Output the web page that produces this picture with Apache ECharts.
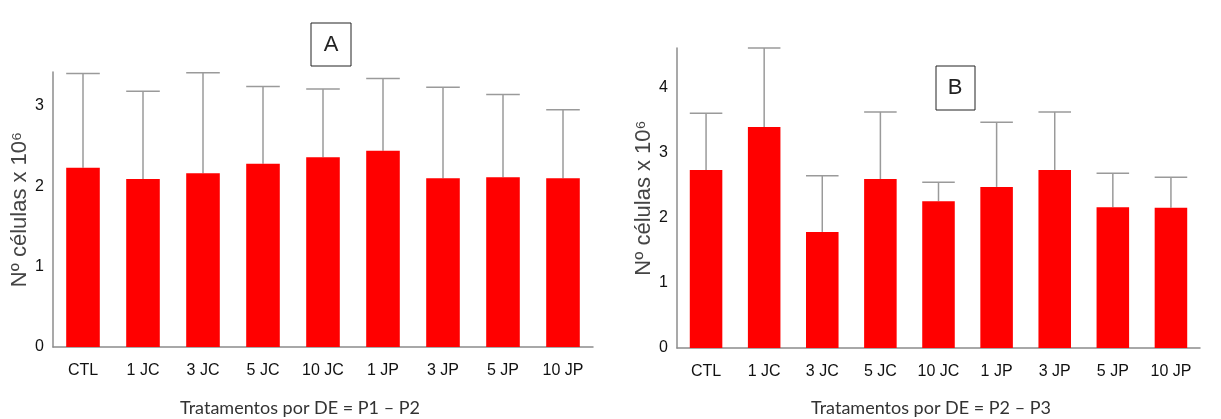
<!DOCTYPE html>
<html>
<head>
<meta charset="utf-8">
<script src="https://cdn.jsdelivr.net/npm/echarts@6/dist/echarts.min.js"></script>
<style>
  html, body { margin: 0; padding: 0; background: #fff; }
  #chart { width: 1221px; height: 419px; }
</style>
</head>
<body>
<div id="chart"></div>
<script>
// categorias (iguais nos dois painéis)
const categorias = ['CTL', '1 JC', '3 JC', '5 JC', '10 JC', '1 JP', '3 JP', '5 JP', '10 JP'];

// painel A: DE = P1 - P2
const mediaA = [2.23, 2.09, 2.16, 2.28, 2.36, 2.44, 2.10, 2.11, 2.10];
const topoA = [3.40, 3.18, 3.41, 3.24, 3.21, 3.34, 3.23, 3.14, 2.95];

// painel B: DE = P2 - P3
const mediaB = [2.73, 3.39, 1.78, 2.59, 2.25, 2.47, 2.73, 2.16, 2.15];
const topoB = [3.60, 4.60, 2.64, 3.62, 2.54, 3.46, 3.62, 2.68, 2.62];

const vermelho = '#ff0000';
const cinza = '#9a9a9a';
const largura = 0.56;

// barra de erro só para cima
function erroItem() {
  return function (params, api) {
    const i = api.value(0);
    const base = api.coord([i, api.value(1)]);
    const alto = api.coord([i, api.value(2)]);
    const meia = api.size([1, 0])[0] * largura / 2;
    const estilo = { stroke: cinza, lineWidth: 1.5 };
    return {
      type: 'group',
      children: [
        { type: 'line', shape: { x1: base[0], y1: base[1], x2: alto[0], y2: alto[1] }, style: estilo },
        { type: 'line', shape: { x1: alto[0] - meia, y1: alto[1], x2: alto[0] + meia, y2: alto[1] }, style: estilo }
      ]
    };
  };
}

function eixoX(grid) {
  return {
    type: 'category', gridIndex: grid, data: categorias,
    axisLine: { lineStyle: { color: '#8c8c8c', width: 1.5 } },
    axisTick: { show: false },
    axisLabel: { color: '#111', fontSize: 16, fontFamily: 'Liberation Sans', margin: 16 }
  };
}

function eixoY(grid, max) {
  return {
    type: 'value', gridIndex: grid, min: 0, max: max, interval: 1,
    name: 'Nº células x 10⁶', nameLocation: 'middle', nameGap: 17,
    nameTextStyle: { color: '#444', fontSize: 22, fontFamily: 'Liberation Sans' },
    splitLine: { show: false },
    axisLine: { show: true, lineStyle: { color: '#8c8c8c', width: 1.5 } },
    axisTick: { show: false },
    axisLabel: { color: '#111', fontSize: 16, fontFamily: 'Liberation Sans', margin: 9, showMaxLabel: false }
  };
}

const chart = echarts.init(document.getElementById('chart'));
chart.setOption({
  animation: false,
  grid: [
    { left: 53, top: 72, width: 540, bottom: 72 },
    { left: 677, top: 48, width: 523, bottom: 71 }
  ],
  xAxis: [eixoX(0), eixoX(1)],
  yAxis: [eixoY(0, 3.42), eixoY(1, 4.6)],
  series: [
    { type: 'bar', xAxisIndex: 0, yAxisIndex: 0, data: mediaA, barWidth: '56%', itemStyle: { color: vermelho } },
    { type: 'custom', xAxisIndex: 0, yAxisIndex: 0, renderItem: erroItem(),
      data: mediaA.map((v, i) => [i, v, topoA[i]]), z: 1 },
    { type: 'bar', xAxisIndex: 1, yAxisIndex: 1, data: mediaB, barWidth: '56%', itemStyle: { color: vermelho } },
    { type: 'custom', xAxisIndex: 1, yAxisIndex: 1, renderItem: erroItem(),
      data: mediaB.map((v, i) => [i, v, topoB[i]]), z: 1 }
  ],
  graphic: [
    { type: 'rect', shape: { x: 311, y: 23, width: 40, height: 43 }, style: { fill: '#fff', stroke: '#222', lineWidth: 1 } },
    { type: 'text', x: 331, y: 45, style: { text: 'A', fontSize: 22, fontFamily: 'Liberation Sans', fill: '#222', align: 'center', verticalAlign: 'middle' } },
    { type: 'rect', shape: { x: 936, y: 66, width: 39, height: 44 }, style: { fill: '#fff', stroke: '#222', lineWidth: 1 } },
    { type: 'text', x: 955, y: 88, style: { text: 'B', fontSize: 22, fontFamily: 'Liberation Sans', fill: '#222', align: 'center', verticalAlign: 'middle' } },
    { type: 'text', x: 300, y: 408, style: { text: 'Tratamentos por DE = P1 – P2', fontSize: 18, fontFamily: 'Lato', fill: '#333', align: 'center', verticalAlign: 'middle' } },
    { type: 'text', x: 931, y: 408, style: { text: 'Tratamentos por DE = P2 – P3', fontSize: 18, fontFamily: 'Lato', fill: '#333', align: 'center', verticalAlign: 'middle' } }
  ]
});
</script>
</body>
</html>
